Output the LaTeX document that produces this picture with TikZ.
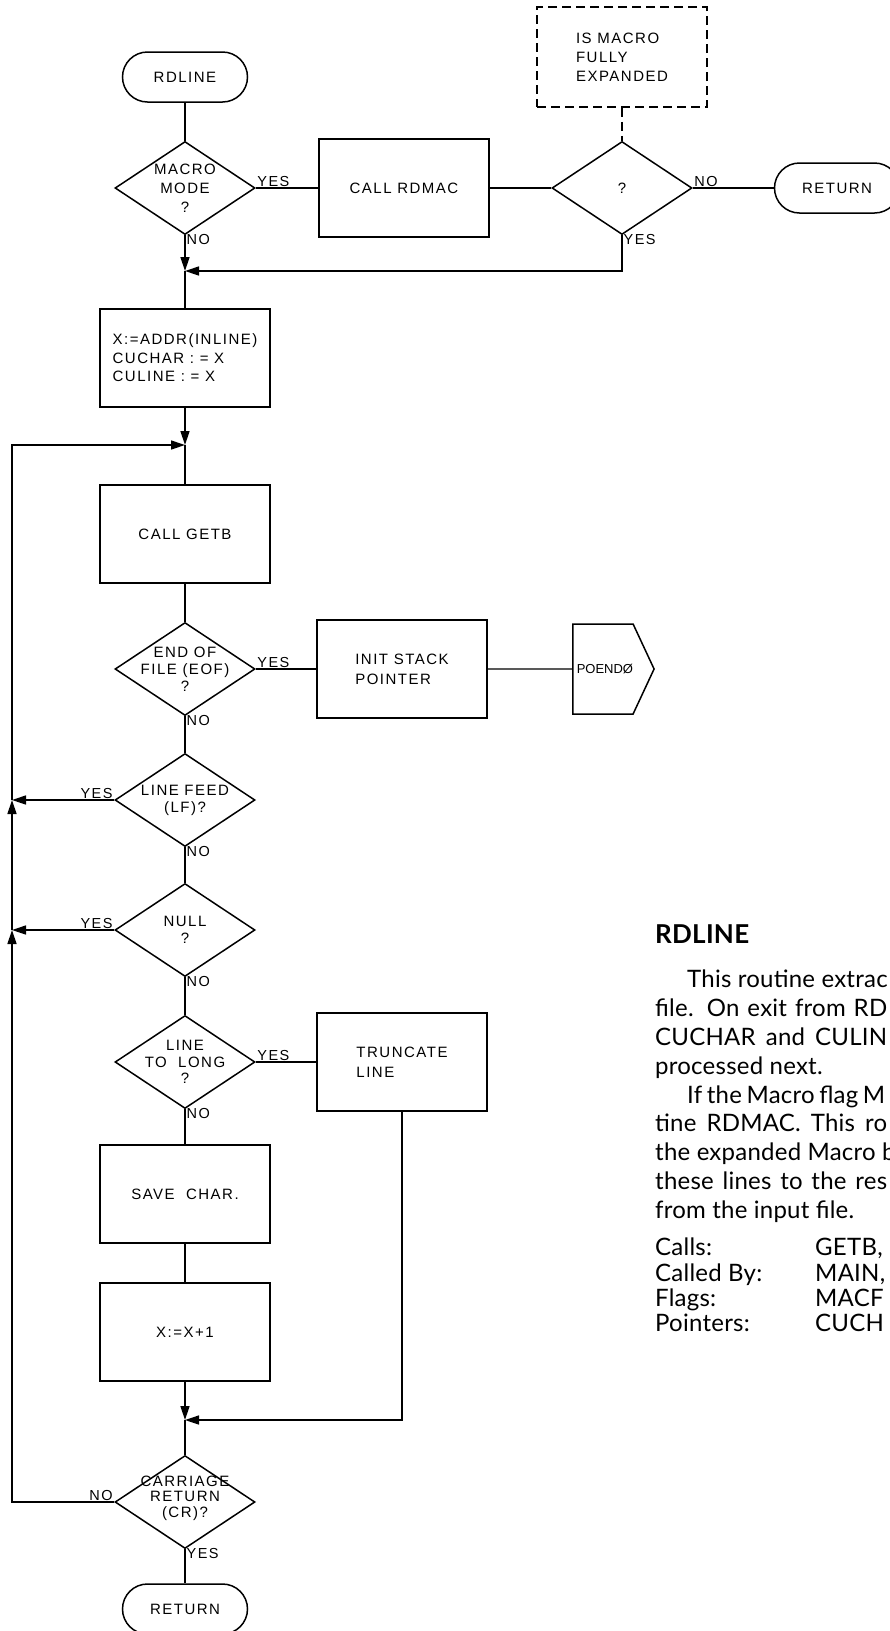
\documentclass[tikz,border=0pt]{standalone}
\usepackage{fontspec}
\newfontfamily\chartfont[LetterSpace=10]{Liberation Sans}
\newfontfamily\plainsans{Liberation Sans}
\newfontfamily\bodyfont[LetterSpace=1]{Lato}
\usetikzlibrary{shapes.geometric,shapes.symbols,arrows.meta}
\begin{document}
\begin{tikzpicture}[x=1pt,y=-1pt,>={Triangle[length=14pt,width=9pt]},
  every node/.style={font=\chartfont\fontsize{15}{19}\selectfont},
  box/.style={draw,line width=1.5pt,minimum width=170pt,minimum height=98pt,align=left},
  term/.style={draw,line width=1.5pt,rounded corners=25pt,minimum width=125pt,minimum height=50pt},
  dec/.style={draw,diamond,line width=1.5pt,minimum width=140pt,minimum height=93pt,inner sep=0pt},
  dtxt/.style={align=center,inner sep=0pt},
  lbl/.style={inner sep=1.5pt,font=\chartfont\fontsize{14.5}{16}\selectfont},
  flow/.style={line width=1.4pt}]
\useasboundingbox (0,0) rectangle (890,1631);
\clip (0,0) rectangle (890,1631);
% flow chart
\node[term] (start) at (185,77) {RDLINE};
\node[dec] (mmode) at (185,188) {};
\node[dtxt] (mmodet) at (mmode) {MACRO\\MODE\\?};
\node[box] (rdmac) at (404,188) {CALL RDMAC};
\node[dec] (expq) at (622,188) {};
\node[dtxt] (expqt) at (expq) {?};
\node[draw,dash pattern=on 9pt off 5pt,line width=1.5pt,minimum width=170pt,minimum height=100pt,align=left] (note) at (622,57) {IS MACRO\\FULLY\\EXPANDED};
\node[term] (ret1) at (837,188) {RETURN};
\coordinate (m1) at (185,271);
\node[box,font=\chartfont\fontsize{15}{18.5}\selectfont] (init) at (185,358) {X:=ADDR(INLINE)\\CUCHAR : = X\\CULINE : = X};
\coordinate (m2) at (185,445);
\node[box] (getb) at (185,534) {CALL GETB};
\node[dec] (eof) at (185,669) {};
\node[dtxt,font=\chartfont\fontsize{15}{17}\selectfont] (eoft) at (eof) {END OF\\FILE (EOF)\\?};
\node[box,font=\chartfont\fontsize{15}{20}\selectfont] (stack) at (402,669) {INIT STACK\\POINTER};
\node[draw,signal,signal to=east,signal pointer angle=130,line width=1.5pt,minimum width=78pt,minimum height=90pt,inner sep=0pt,anchor=west,font=\plainsans\fontsize{13}{15}\selectfont] (poendo) at (572,669) {\hspace*{4pt}POENDØ};
\node[dec] (lf) at (185,800) {};
\node[dtxt,font=\chartfont\fontsize{15}{17}\selectfont] (lft) at (lf) {LINE FEED\\(LF)?};
\node[dec] (null) at (185,930) {};
\node[dtxt,font=\chartfont\fontsize{15}{17}\selectfont] (nullt) at (null) {NULL\\?};
\node[dec] (long) at (185,1062) {};
\node[dtxt,font=\chartfont\fontsize{15}{16.5}\selectfont] (longt) at (long) {LINE\\TO~~LONG\\?};
\node[box,font=\chartfont\fontsize{15}{20}\selectfont] (trunc) at (402,1062) {TRUNCATE\\LINE};
\node[box] (save) at (185,1194) {SAVE~ CHAR.};
\node[box] (incr) at (185,1332) {X:=X+1};
\coordinate (m3) at (185,1420);
\node[dec] (cr) at (185,1502) {};
\node[dtxt,font=\chartfont\fontsize{15}{15.5}\selectfont] (crt) at ([yshift=4]cr.center) {CARRIAGE\\RETURN\\(CR)?};
\node[term] (ret2) at (185,1609) {RETURN};
\coordinate (l1) at (12,1502);
\coordinate (l2) at (12,930);
\coordinate (l3) at (12,800);
\coordinate (l4) at (12,445);
% yes / no
\node[lbl,anchor=south west] (y1) at (mmode.east) {YES};
\node[lbl,anchor=north west] (n1) at ([yshift=3]mmode.south) {NO};
\node[lbl,anchor=south west] (n2) at (expq.east) {NO};
\node[lbl,anchor=north west] (y2) at ([yshift=3]expq.south) {YES};
\node[lbl,anchor=south west] (y3) at (eof.east) {YES};
\node[lbl,anchor=north west] (n3) at ([yshift=3]eof.south) {NO};
\node[lbl,anchor=south east] (y4) at (lf.west) {YES};
\node[lbl,anchor=north west] (n4) at ([yshift=3]lf.south) {NO};
\node[lbl,anchor=south east] (y5) at (null.west) {YES};
\node[lbl,anchor=north west] (n5) at ([yshift=3]null.south) {NO};
\node[lbl,anchor=south west] (y6) at (long.east) {YES};
\node[lbl,anchor=north west] (n6) at ([yshift=3]long.south) {NO};
\node[lbl,anchor=south east] (n7) at (cr.west) {NO};
\node[lbl,anchor=north west] (y7) at ([yshift=3]cr.south) {YES};
% connectors
\path[draw,flow] (start) -- (mmode);
\path[draw,flow] (mmode) -- (rdmac);
\path[draw,flow] (rdmac) -- (expq);
\path[draw,flow] (expq) -- (ret1);
\path[draw,flow,dash pattern=on 9pt off 5pt] (note) -- (expq);
\path[draw,flow,->] (mmode) -- (m1);
\path[draw,flow,->] (expq.south) |- (m1);
\path[draw,flow] (m1) -- (init);
\path[draw,flow,->] (init) -- (m2);
\path[draw,flow] (m2) -- (getb);
\path[draw,flow] (getb) -- (eof);
\path[draw,flow] (eof) -- (stack);
\path[draw,flow] (stack) -- (poendo);
\path[draw,flow] (eof) -- (lf);
\path[draw,flow] (lf) -- (null);
\path[draw,flow] (null) -- (long);
\path[draw,flow] (long) -- (trunc);
\path[draw,flow] (long) -- (save);
\path[draw,flow] (save) -- (incr);
\path[draw,flow,->] (incr) -- (m3);
\path[draw,flow,->] (trunc.south) |- (m3);
\path[draw,flow] (m3) -- (cr);
\path[draw,flow] (cr) -- (ret2);
\path[draw,flow,->] (cr) -- (l1) -- (l2);
\path[draw,flow,->] (l2) -- (l3);
\path[draw,flow,->] (l3) -- (l4) -- (m2);
\path[draw,flow,->] (lf) -- (l3);
\path[draw,flow,->] (null) -- (l2);
% text
\node[anchor=base west,inner sep=0pt,font=\bodyfont\bfseries\fontsize{26}{30}\selectfont] (head) at (655,943) {RDLINE};
\node[anchor=north west,inner sep=0pt,align=left,font=\bodyfont\fontsize{24}{28.8}\selectfont] (desc) at (655,970) {\hspace*{32pt}This routine extrac\\\makebox[232pt][s]{file. On exit from RD}\\\makebox[232pt][s]{CUCHAR and CULIN}\\processed next.\\\hspace*{32pt}\makebox[198pt][s]{If the Macro flag M}\\\makebox[232pt][s]{tine RDMAC. This ro}\\the expanded Macro b\\\makebox[232pt][s]{these lines to the res}\\from the input file.};
\node[anchor=north west,inner sep=0pt,align=left,font=\bodyfont\fontsize{24}{25.3}\selectfont] (refs) at (655,1238) {\makebox[160pt][l]{Calls:}GETB,\\\makebox[160pt][l]{Called By:}MAIN,\\\makebox[160pt][l]{Flags:}MACF\\\makebox[160pt][l]{Pointers:}CUCH};
\end{tikzpicture}
\end{document}
